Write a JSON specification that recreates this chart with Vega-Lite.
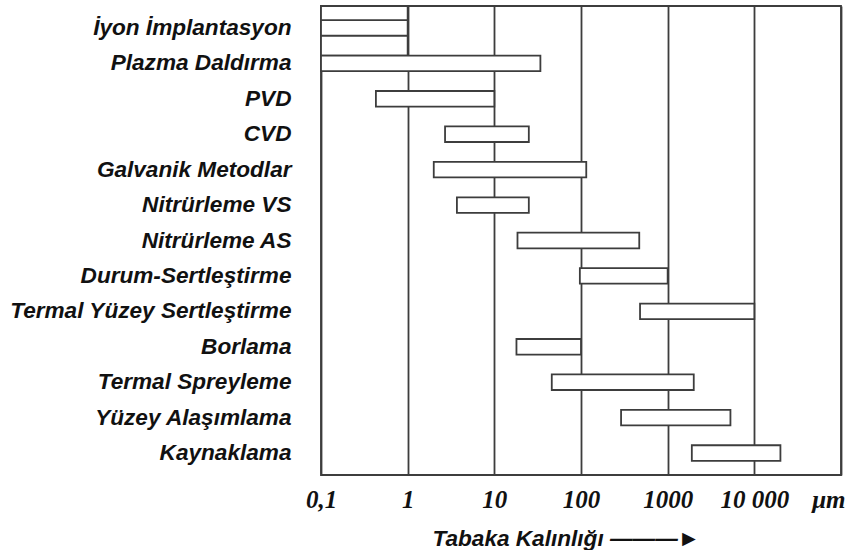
{
  "$schema": "https://vega.github.io/schema/vega-lite/v6.json",
  "width": 520,
  "height": 469,
  "autosize": {"type": "none"},
  "padding": {"left": 321, "top": 6, "right": 6, "bottom": 75},
  "background": "white",
  "config": {"view": {"stroke": "#3d3d3d", "strokeWidth": 1.8}},
  "data": {
    "values": [
      {"name": "İyon İmplantasyon", "lo": 0.1, "hi": 1},
      {"name": "Plazma Daldırma", "lo": 0.1, "hi": 34},
      {"name": "PVD", "lo": 0.43, "hi": 10},
      {"name": "CVD", "lo": 2.7, "hi": 25},
      {"name": "Galvanik Metodlar", "lo": 2, "hi": 115},
      {"name": "Nitrürleme VS", "lo": 3.7, "hi": 25},
      {"name": "Nitrürleme AS", "lo": 18.5, "hi": 470},
      {"name": "Durum-Sertleştirme", "lo": 97, "hi": 1000},
      {"name": "Termal Yüzey Sertleştirme", "lo": 480, "hi": 10000},
      {"name": "Borlama", "lo": 18, "hi": 100},
      {"name": "Termal Spreyleme", "lo": 46, "hi": 2000},
      {"name": "Yüzey Alaşımlama", "lo": 290, "hi": 5300},
      {"name": "Kaynaklama", "lo": 1900, "hi": 20000}
    ]
  },
  "encoding": {
    "y": {
      "field": "name",
      "type": "nominal",
      "sort": null,
      "scale": {
        "domain": ["İyon İmplantasyon", "Plazma Daldırma", "PVD", "CVD", "Galvanik Metodlar", "Nitrürleme VS", "Nitrürleme AS", "Durum-Sertleştirme", "Termal Yüzey Sertleştirme", "Borlama", "Termal Spreyleme", "Yüzey Alaşımlama", "Kaynaklama"],
        "paddingInner": 0.56,
        "paddingOuter": 0.4
      },
      "axis": {
        "title": null,
        "ticks": false,
        "domain": false,
        "labelFont": "Liberation Sans",
        "labelFontSize": 22.6,
        "labelFontWeight": "bold",
        "labelFontStyle": "italic",
        "labelColor": "#111111",
        "labelPadding": 30,
        "labelLimit": 400
      }
    },
    "x": {
      "field": "lo",
      "type": "quantitative",
      "scale": {"type": "log", "domain": [0.1, 100000], "nice": false},
      "axis": {
        "orient": "bottom",
        "values": [0.1, 1, 10, 100, 1000, 10000, 100000],
        "grid": true,
        "gridColor": "#3d3d3d",
        "gridWidth": 1.8,
        "gridOpacity": 1,
        "ticks": false,
        "tickSize": 0,
        "domain": false,
        "labelFont": "Liberation Serif",
        "labelFontSize": 25,
        "labelFontWeight": "bold",
        "labelFontStyle": "italic",
        "labelColor": "#111111",
        "labelPadding": 12,
        "labelFlush": false,
        "labelOverlap": false,
        "labelExpr": "datum.value < 0.5 ? '0,1' : datum.value > 50000 ? 'μm' : datum.value == 10000 ? '10 000' : format(datum.value, 'd')",
        "labelAlign": {"condition": {"test": "datum.value > 50000", "value": "right"}, "value": "center"},
        "labelOffset": {"condition": {"test": "datum.value > 50000", "value": 4}, "value": 0},
        "title": "Tabaka Kalınlığı ———►",
        "titleFont": "Liberation Sans",
        "titleFontSize": 22.6,
        "titleFontWeight": "bold",
        "titleFontStyle": "italic",
        "titleColor": "#111111",
        "titleAlign": "left",
        "titleBaseline": "alphabetic",
        "titleX": 111,
        "titleY": 70
      }
    },
    "x2": {"field": "hi"}
  },
  "layer": [
    {
      "transform": [{"filter": "datum.name == 'İyon İmplantasyon'"}],
      "mark": {"type": "bar", "height": {"band": 3.18}, "yOffset": 2.8, "fill": "white", "stroke": "#3d3d3d", "strokeWidth": 1.8}
    },
    {
      "mark": {"type": "bar", "fill": "white", "stroke": "#3d3d3d", "strokeWidth": 1.8}
    }
  ]
}
